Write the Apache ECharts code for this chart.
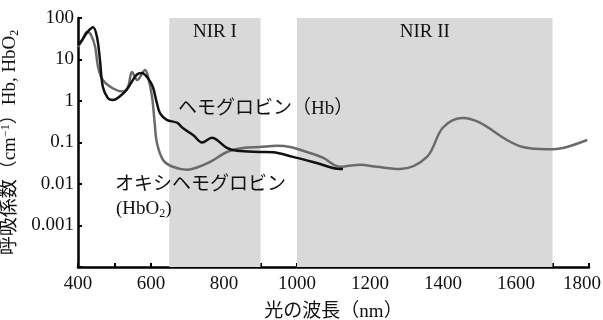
<!DOCTYPE html>
<html><head><meta charset="utf-8">
<script src="https://cdn.jsdelivr.net/npm/echarts@6/dist/echarts.min.js"></script>
<style>html,body{margin:0;padding:0;background:#fff}#c{width:603px;height:320px}</style>
</head><body><div id="c"></div>
<script>
var hbWave = [400,412,425,441,452,460,468,482,496,515,534,561,575,592,605,616,625,643,671,688,716,740,767,781,808,836,898,934,989,1054,1118,1126];
var hbVal  = [22,30,45,60,35,10,2.2,1.17,1.05,1.3,1.9,4.3,4.7,3.5,2.2,0.9,0.5,0.35,0.3,0.22,0.15,0.1,0.13,0.115,0.074,0.063,0.059,0.058,0.045,0.032,0.023,0.023];
var oxyWave = [400,412,425,435,447,455,468,496,523,537,548,562,584,592,603,610,616,633,660,699,726,762,808,852,898,945,981,1027,1071,1118,1137,1173,1219,1282,1356,1400,1455,1501,1575,1619,1685,1729,1795];
var oxyVal  = [20,30,46,40,20,6.6,3.2,2,1.7,2.2,5,3.2,5.6,3.8,1.25,0.3,0.1,0.038,0.026,0.022,0.025,0.034,0.059,0.074,0.078,0.083,0.078,0.059,0.043,0.026,0.027,0.029,0.026,0.023,0.045,0.23,0.39,0.3,0.115,0.078,0.069,0.074,0.115];
var xTicks = [400,600,800,1000,1200,1400,1600,1800];
var yTicks = [100,10,1,0.1,0.01,0.001];
var bands = [[650,900,'NIR I'],[1000,1700,'NIR II']];

function pairs(a,b){return a.map(function(x,i){return [x,b[i]];});}
var FONT = '"Liberation Serif","Noto Sans CJK JP",serif';
var chart = echarts.init(document.getElementById('c'));
chart.setOption({
  animation:false,
  grid:{left:78,right:14,top:18,bottom:53,containLabel:false,outerBoundsMode:'none'},
  xAxis:{type:'value',min:400,max:1800,interval:100,
    axisLine:{lineStyle:{color:'#000',width:2.5}},
    axisTick:{inside:true,length:4,lineStyle:{color:'#000',width:2}},
    splitLine:{show:false},
    axisLabel:{margin:8,color:'#111',fontFamily:FONT,fontSize:19,hideOverlap:false,
      rich:{last:{fontFamily:FONT,fontSize:19,color:'#111',padding:[0,14,0,0]}},
      formatter:function(v){
        if(xTicks.indexOf(v)<0)return '';
        return v===xTicks[xTicks.length-1]?'{last|'+v+'}':String(v);}},
    name:'光の波長（nm）',nameLocation:'middle',nameGap:36,
    nameTextStyle:{color:'#111',fontFamily:FONT,fontSize:19}
  },
  yAxis:{type:'log',logBase:10,min:0.0001,max:100,
    axisLine:{show:true,lineStyle:{color:'#000',width:2.5}},
    axisTick:{show:true,inside:true,length:4,lineStyle:{color:'#000',width:2}},
    splitLine:{show:false},
    axisLabel:{margin:4,color:'#111',fontFamily:FONT,fontSize:19,
      formatter:function(v){
        for(var i=0;i<yTicks.length;i++){if(Math.abs(Math.log10(v)-Math.log10(yTicks[i]))<1e-6)return String(yTicks[i]);}
        return '';}},
    name:'{n|呼吸係数（cm}{sup|−1}{n|）Hb, HbO}{sub|2}',nameLocation:'middle',nameGap:57,nameRotate:90,
    nameTextStyle:{color:'#111',fontFamily:FONT,fontSize:19,
      rich:{n:{fontFamily:FONT,fontSize:19,color:'#111'},
            sup:{fontFamily:FONT,fontSize:12,color:'#111',padding:[0,0,9,0]},
            sub:{fontFamily:FONT,fontSize:12,color:'#111',padding:[9,0,0,0]}}}
  },
  series:[
    {type:'line',name:'HbO2',data:pairs(oxyWave,oxyVal),smooth:0.35,showSymbol:false,z:3,
     lineStyle:{color:'#6a6a6a',width:2.5},
     markArea:{silent:true,itemStyle:{color:'#d9d9d9'},
       label:{show:true,position:'insideTop',distance:5,color:'#111',fontFamily:FONT,fontSize:19},
       data:bands.map(function(b){return [{xAxis:b[0],name:b[2]},{xAxis:b[1]}];})}},
    {type:'line',name:'Hb',data:pairs(hbWave,hbVal),smooth:0.35,showSymbol:false,z:4,
     lineStyle:{color:'#111',width:2.5}}
  ],
  graphic:[
    {type:'text',z:100,left:178,top:100,style:{text:'ヘモグロビン（Hb）',fontFamily:FONT,fontSize:19,fill:'#111'}},
    {type:'text',z:100,left:115,top:176,style:{text:'オキシヘモグロビン',fontFamily:FONT,fontSize:19,fill:'#111'}},
    {type:'text',z:100,left:116,top:200,style:{rich:{n:{fontFamily:FONT,fontSize:19,fill:'#111'},sub:{fontFamily:FONT,fontSize:12,fill:'#111',padding:[9,0,0,0]}},text:'{n|(HbO}{sub|2}{n|)}',fill:'#111'}}
  ]
});
</script></body></html>
